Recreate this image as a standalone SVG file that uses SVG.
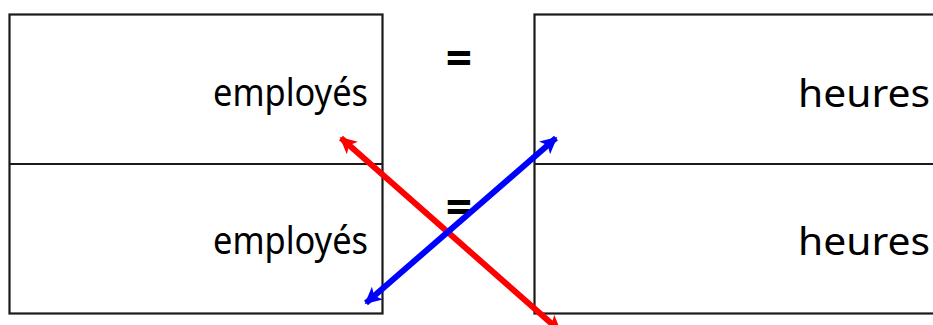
<svg xmlns="http://www.w3.org/2000/svg" width="933" height="325" viewBox="0 0 933 325">
<style>
.box{fill:#fff;stroke:#1a1a1a;stroke-width:2.2}
.div{stroke:#1a1a1a;stroke-width:2.2}
.lbl{font-family:"Comic Sans MS","Noto Sans",sans-serif;font-size:38px;fill:#000;text-anchor:end}
.eq{font-family:"Comic Sans MS","Noto Sans",sans-serif;font-size:46px;font-weight:bold;fill:#000;text-anchor:middle}
</style>
<defs>
<marker id="hr" viewBox="0 0 10 10" refX="9" refY="5" markerWidth="2.8" markerHeight="2.8" orient="auto-start-reverse" markerUnits="strokeWidth"><path d="M0,0 L10,5 L0,10 L2.5,5 Z" fill="#ff0000"/></marker>
<marker id="hb" viewBox="0 0 10 10" refX="9" refY="5" markerWidth="2.8" markerHeight="2.8" orient="auto-start-reverse" markerUnits="strokeWidth"><path d="M0,0 L10,5 L0,10 L2.5,5 Z" fill="#0000ff"/></marker>
</defs>
<g id="left">
<rect class="box" x="9.5" y="14.5" width="373" height="299"/>
<line class="div" x1="9.5" y1="164" x2="382.5" y2="164"/>
<text class="lbl" x="368" y="106" textLength="155" lengthAdjust="spacingAndGlyphs">employés</text>
<text class="lbl" x="368" y="254" textLength="155" lengthAdjust="spacingAndGlyphs">employés</text>
</g>
<g id="right">
<rect class="box" x="534.5" y="14.5" width="420" height="299"/>
<line class="div" x1="534.5" y1="164" x2="940" y2="164"/>
<text class="lbl" x="930" y="107" textLength="132" lengthAdjust="spacingAndGlyphs">heures</text>
<text class="lbl" x="930" y="255" textLength="132" lengthAdjust="spacingAndGlyphs">heures</text>
</g>
<g id="equals">
<text class="eq" x="459" y="75">=</text>
<text class="eq" x="459" y="224">=</text>
</g>
<g id="connectors">
<line x1="341" y1="138" x2="560" y2="331" stroke="#ff0000" stroke-width="6" marker-start="url(#hr)" marker-end="url(#hr)"/>
<line x1="366" y1="303" x2="556" y2="138" stroke="#0000ff" stroke-width="6" marker-start="url(#hb)" marker-end="url(#hb)"/>
</g>
</svg>
